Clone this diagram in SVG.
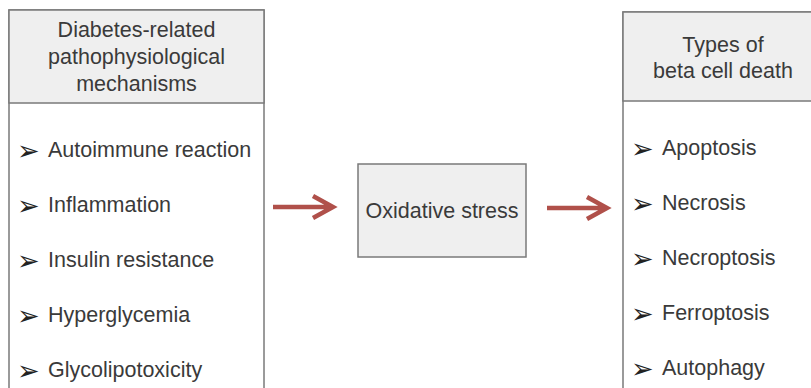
<svg xmlns="http://www.w3.org/2000/svg" width="811" height="388" viewBox="0 0 811 388">
<style>
.box{fill:#ffffff;stroke:#7a7a7a;stroke-width:1.5}
.hdr{fill:#efefef;stroke:#7a7a7a;stroke-width:1.5}
.t{font-family:"Liberation Sans",Arial,sans-serif;font-size:21.5px;fill:#3a3a3a}
.c{text-anchor:middle}
.b{font-family:"DejaVu Sans",sans-serif;font-size:27px;fill:#222}
.arr{fill:none;stroke:#b0504a;stroke-width:4.5;stroke-linecap:butt;stroke-linejoin:miter}
</style>
<rect width="811" height="388" fill="#ffffff"/>
<g id="mechanisms">
<rect class="box" x="9" y="10" width="255" height="400"/>
<rect class="hdr" x="9" y="10" width="255" height="93"/>
<text class="t c" x="136.5" y="37">Diabetes-related</text>
<text class="t c" x="136.5" y="64">pathophysiological</text>
<text class="t c" x="136.5" y="91">mechanisms</text>
<text class="b" x="17" y="160">➢</text><text class="t" x="48" y="157">Autoimmune reaction</text>
<text class="b" x="17" y="215">➢</text><text class="t" x="48" y="212">Inflammation</text>
<text class="b" x="17" y="270">➢</text><text class="t" x="48" y="267">Insulin resistance</text>
<text class="b" x="17" y="325">➢</text><text class="t" x="48" y="322">Hyperglycemia</text>
<text class="b" x="17" y="380">➢</text><text class="t" x="48" y="377">Glycolipotoxicity</text>
</g>
<g id="oxidative">
<rect class="hdr" x="358" y="164" width="168" height="93"/>
<text class="t c" x="442" y="218">Oxidative stress</text>
</g>
<g id="death">
<rect class="box" x="623" y="12" width="200" height="400"/>
<rect class="hdr" x="623" y="12" width="200" height="89"/>
<text class="t c" x="723" y="52">Types of</text>
<text class="t c" x="723" y="78">beta cell death</text>
<text class="b" x="631" y="158">➢</text><text class="t" x="662" y="155">Apoptosis</text>
<text class="b" x="631" y="213">➢</text><text class="t" x="662" y="210">Necrosis</text>
<text class="b" x="631" y="268">➢</text><text class="t" x="662" y="265">Necroptosis</text>
<text class="b" x="631" y="323">➢</text><text class="t" x="662" y="320">Ferroptosis</text>
<text class="b" x="631" y="378">➢</text><text class="t" x="662" y="375">Autophagy</text>
</g>
<g id="connectors">
<path class="arr" d="M273 207 H332 M313 196 L333 207 L313 218"/>
<path class="arr" d="M547 208 H606 M587 197 L607 208 L587 219"/>
</g>
</svg>
